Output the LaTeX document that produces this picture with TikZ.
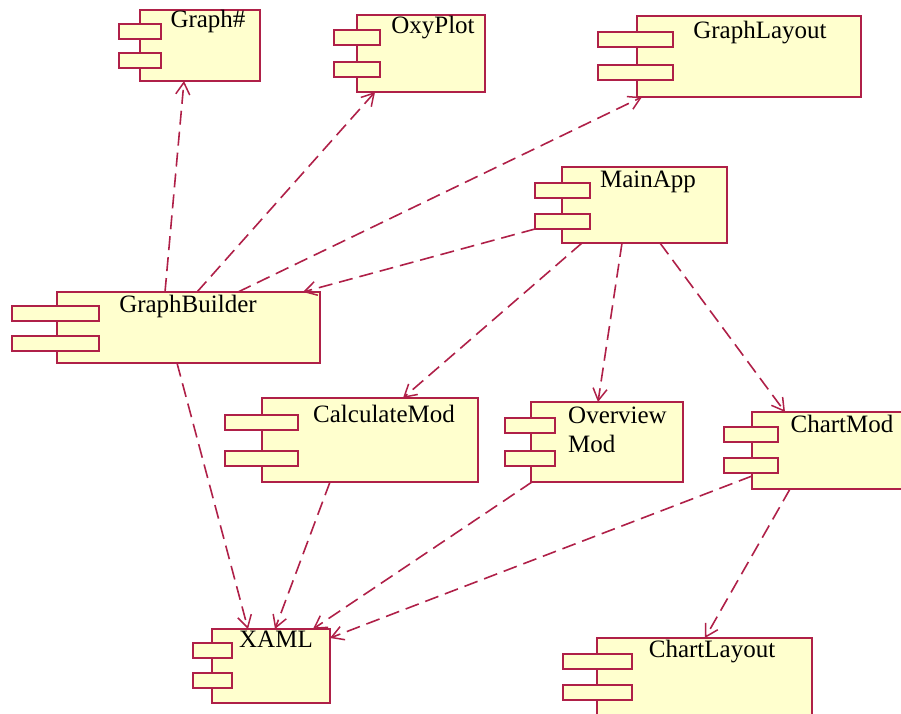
\documentclass[tikz,border=0pt]{standalone}
\usepackage{fontspec}
\setmainfont{Liberation Serif}
\usetikzlibrary{arrows.meta,calc}
\definecolor{umlred}{RGB}{175,32,72}
\definecolor{umlfill}{RGB}{255,255,206}
\tikzset{
  compbody/.style={draw=umlred, fill=umlfill, line width=1.5pt, anchor=north west,
                   inner sep=0pt, outer sep=0pt},
  comptab/.style={draw=umlred, fill=umlfill, line width=1.5pt},
  complabel/.style={font=\fontsize{25}{29}\selectfont, text=black, inner sep=0pt},
  dep/.style={draw=umlred, line width=1.6pt, dash pattern=on 14pt off 7pt,
              -{Straight Barb[length=12pt,width=14pt,line width=1.5pt]}}
}
% component box: name, left, top, right, bottom, tab left, tab right, tab1 top, tab2 top
\newcommand\umlcomponent[9]{%
  \node[compbody, minimum width={(#4)-(#2)}, minimum height={(#5)-(#3)}] (#1) at (#2,#3) {};
  \draw[comptab] (#6,#8) rectangle (#7,{#8+15});
  \draw[comptab] (#6,#9) rectangle (#7,{#9+15});
}
\begin{document}
\begin{tikzpicture}[x=1pt,y=-1pt]
\useasboundingbox (0,0) rectangle (901,713);
\clip (0,0) rectangle (901,713);

% components
\umlcomponent{gs}{140}{10}{260}{81}{119}{161}{24}{53}
\umlcomponent{oxy}{357}{15}{485}{92}{334}{380}{30}{62}
\umlcomponent{gl}{637}{16}{861}{97}{598}{673}{32}{65}
\umlcomponent{ma}{562}{167}{727}{243}{535}{590}{183}{214}
\umlcomponent{gb}{57}{292}{320}{363}{12}{99}{306}{336}
\umlcomponent{cm}{262}{398}{478}{482}{225}{298}{415}{451}
\umlcomponent{om}{531}{402}{683}{482}{505}{555}{418}{451}
\umlcomponent{chm}{752}{412}{930}{489}{724}{778}{427}{458}
\umlcomponent{cl}{597}{638}{812}{740}{563}{632}{654}{685}
\umlcomponent{xaml}{212}{629}{330}{703}{193}{232}{643}{673}

% labels
\node[complabel, anchor=base] (gs-txt) at (208,27) {Graph\#};
\node[complabel, anchor=base] (oxy-txt) at (433,33) {OxyPlot};
\node[complabel, anchor=base] (gl-txt) at (760,38) {GraphLayout};
\node[complabel, anchor=base] (ma-txt) at (648,187) {MainApp};
\node[complabel, anchor=base] (gb-txt) at (188,312) {GraphBuilder};
\node[complabel, anchor=base] (cm-txt) at (384,422) {CalculateMod};
\node[complabel, anchor=base west] (om-txt1) at (568,423) {Overview};
\node[complabel, anchor=base west] (om-txt2) at (568,452) {Mod};
\node[complabel, anchor=base] (chm-txt) at (842,432) {ChartMod};
\node[complabel, anchor=base] (cl-txt) at (712,657) {ChartLayout};
\node[complabel, anchor=base] (xaml-txt) at (276,647) {XAML};

% dependencies
\draw[dep] ($(gb.north west)+(108,0)$) -- ($(gs.south west)+(44,0)$);
\draw[dep] ($(gb.north west)+(140,0)$) -- ($(oxy.south west)+(18,0)$);
\draw[dep] ($(gb.north west)+(181,0)$) -- ($(gl.south west)+(5,0)$);
\draw[dep] ($(ma.south west)+(-27,-14)$) -- ($(gb.north east)+(-17,0)$);
\draw[dep] ($(ma.south west)+(20,0)$) -- ($(cm.north west)+(141,0)$);
\draw[dep] ($(ma.south west)+(60,0)$) -- ($(om.north west)+(67,0)$);
\draw[dep] ($(ma.south west)+(98,0)$) -- ($(chm.north west)+(33,0)$);
\draw[dep] ($(gb.south west)+(120,0)$) -- ($(xaml.north west)+(36,0)$);
\draw[dep] ($(cm.south west)+(68,0)$) -- ($(xaml.north west)+(63,0)$);
\draw[dep] ($(om.south west)+(1,0)$) -- ($(xaml.north east)+(-17,0)$);
\draw[dep] ($(chm.south west)+(0,-13)$) -- ($(xaml.north east)+(0,9)$);
\draw[dep] ($(chm.south west)+(38,0)$) -- ($(cl.north west)+(108,0)$);
\end{tikzpicture}
\end{document}
